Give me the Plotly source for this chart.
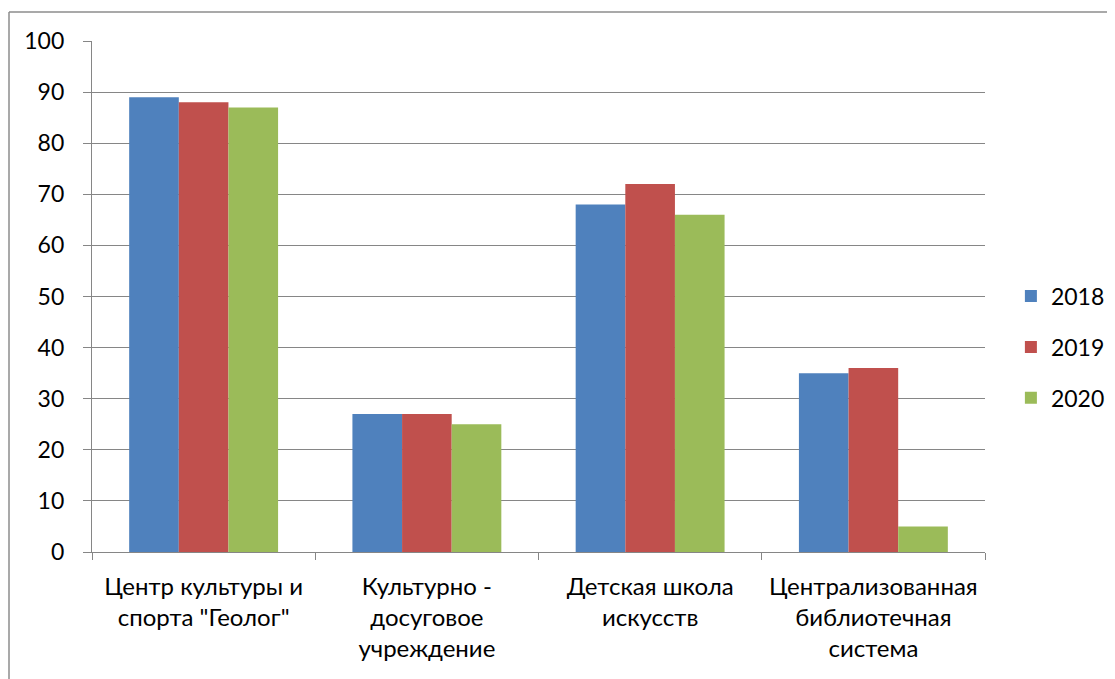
import plotly.graph_objects as go

categories = ["Центр культуры и<br>спорта \"Геолог\"",
              "Культурно -<br>досуговое<br>учреждение",
              "Детская школа<br>искусств",
              "Централизованная<br>библиотечная<br>система"]
years = ["2018", "2019", "2020"]
values_2018 = [89, 27, 68, 35]
values_2019 = [88, 27, 72, 36]
values_2020 = [87, 25, 66, 5]
colors = ["#4F81BD", "#C0504D", "#9BBB59"]
y_ticks = [0, 10, 20, 30, 40, 50, 60, 70, 80, 90, 100]

FONT = "Lato"
fig = go.Figure()
for name, vals, col in zip(years, [values_2018, values_2019, values_2020], colors):
    fig.add_trace(go.Bar(x=categories, y=vals, name=name, legendgroup=name,
                         marker=dict(color=col, line=dict(width=0))))

L, R, T, B = 84, 138, 33, 135
PW = 1115 - L - R
PH = 679 - T - B

fig.update_layout(
    width=1115, height=679,
    margin=dict(l=L, r=R, t=T, b=B, autoexpand=False),
    paper_bgcolor="white", plot_bgcolor="white",
    barmode="group", bargap=0.333, bargroupgap=0,
    font=dict(family=FONT, size=23, color="black"),
    showlegend=True,
    legend=dict(x=1.029, y=0.401, xanchor="left", yanchor="middle",
                font=dict(size=23), tracegroupgap=18, itemwidth=30),
    xaxis=dict(type="category", showline=True, linecolor="#868686", linewidth=1.3,
               ticks="outside", tickson="boundaries", ticklen=7, tickcolor="#868686",
               tickwidth=1.3, tickfont=dict(size=24), ticklabelstandoff=13, showgrid=False),
    yaxis=dict(range=[0, 100], tickvals=y_ticks, showline=True, linecolor="#868686",
               linewidth=1.3, ticks="outside", ticklen=8, tickcolor="#868686", tickwidth=1.3,
               showgrid=True, gridcolor="#868686", gridwidth=1.3, zeroline=False,
               tickfont=dict(size=23), ticklabelstandoff=14),
)
bx = (1 - L) / PW
by = (T + PH - 4) / PH
fig.add_shape(type="line", xref="paper", yref="paper", x0=bx, x1=1.3, y0=by, y1=by,
              line=dict(color="#8C8C8C", width=1.5))
fig.add_shape(type="line", xref="paper", yref="paper", x0=bx, x1=bx, y0=-0.4, y1=by,
              line=dict(color="#8C8C8C", width=1.5))
fig.write_html("out.html")
